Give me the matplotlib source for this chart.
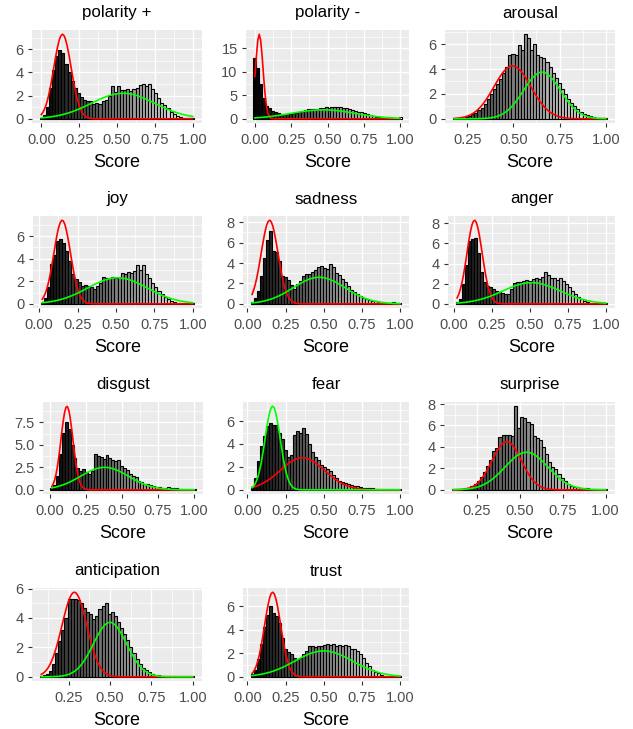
import matplotlib

matplotlib.use("Agg")
import matplotlib.pyplot as plt
import numpy as np
from matplotlib.ticker import AutoMinorLocator, FormatStrFormatter, MultipleLocator

plt.rcParams["font.family"] = ["Liberation Sans", "DejaVu Sans"]

# ---- data (density per bin, 50 bins per panel) ----
names = ["polarity +", "polarity -", "arousal", "joy", "sadness", "anger",
         "disgust", "fear", "surprise", "anticipation", "trust"]

# lowest observed score per panel; bins run from here up to 1.0
x_min = [0.0, 0.0, 0.18, 0.02, 0.03, 0.02, 0.015, 0.03, 0.115, 0.085, 0.03]

polarity_pos = [0.1, 0.3, 1.0, 2.7, 4.2, 5.4, 5.9, 5.7, 4.7, 4.0,
                3.3, 2.7, 2.2, 1.9, 1.6, 1.5, 1.5, 1.3, 1.4, 1.3,
                1.5, 1.6, 2.0, 2.8, 2.3, 2.8, 2.5, 2.5, 2.6, 2.4,
                2.6, 2.7, 2.9, 3.0, 2.8, 3.0, 2.6, 2.2, 1.8, 1.4,
                1.2, 0.9, 0.6, 0.4, 0.2, 0.12, 0.06, 0.04, 0.03, 0.05]
polarity_neg = [12.9, 10.9, 7.5, 4.5, 2.8, 2.2, 1.7, 1.4, 1.2, 1.1,
                1.0, 1.0, 1.1, 1.2, 1.3, 1.5, 1.7, 1.9, 2.0, 2.1,
                2.1, 2.0, 2.3, 2.2, 2.4, 2.3, 2.4, 2.6, 2.5, 2.4,
                2.2, 2.2, 2.0, 1.9, 1.7, 1.5, 1.4, 1.2, 1.0, 0.8,
                0.6, 0.45, 0.35, 0.25, 0.18, 0.12, 0.08, 0.06, 0.05, 0.3]
arousal = [0.05, 0.05, 0.08, 0.1, 0.15, 0.25, 0.35, 0.5, 0.7, 0.9,
           1.2, 1.6, 2.0, 2.4, 2.8, 3.2, 3.7, 4.2, 5.1, 5.2,
           5.1, 5.9, 5.5, 6.8, 6.5, 5.5, 6.0, 5.1, 5.0, 4.9,
           4.6, 4.2, 3.7, 3.3, 2.9, 2.4, 2.0, 1.6, 1.3, 1.0,
           0.75, 0.55, 0.4, 0.3, 0.2, 0.13, 0.09, 0.06, 0.04, 0.05]
joy = [0.1, 0.5, 1.5, 3.5, 4.3, 5.6, 5.7, 5.4, 4.7, 3.8,
       2.6, 2.2, 1.9, 1.6, 1.7, 1.6, 1.5, 1.3, 1.6, 1.8,
       2.4, 2.3, 2.3, 2.4, 2.3, 2.4, 2.7, 2.6, 2.8, 2.7,
       2.9, 3.4, 3.0, 3.4, 2.6, 2.3, 1.8, 1.5, 1.1, 0.9,
       0.6, 0.4, 0.25, 0.15, 0.1, 0.06, 0.04, 0.03, 0.02, 0.05]
sadness = [0.2, 0.6, 1.3, 2.7, 4.5, 6.3, 7.1, 5.2, 5.1, 4.2,
           2.7, 2.6, 2.3, 1.8, 1.5, 1.9, 2.2, 2.7, 2.9, 2.9,
           3.1, 3.3, 3.6, 3.7, 3.5, 3.4, 3.9, 3.6, 3.0, 2.8,
           2.4, 2.1, 1.7, 1.4, 1.2, 1.0, 0.8, 0.6, 0.45, 0.35,
           0.3, 0.25, 0.2, 0.15, 0.12, 0.1, 0.1, 0.15, 0.1, 0.1]
anger = [0.2, 0.5, 2.0, 3.9, 6.2, 6.4, 6.5, 5.0, 3.2, 2.2,
         1.8, 1.7, 1.5, 1.3, 1.2, 1.1, 1.0, 1.0, 1.5, 2.1,
         2.2, 2.2, 2.3, 2.4, 2.3, 2.5, 2.6, 2.5, 2.7, 3.2,
         2.9, 2.6, 2.6, 2.4, 2.6, 2.3, 2.0, 1.7, 1.3, 1.0,
         0.7, 0.45, 0.3, 0.2, 0.12, 0.08, 0.05, 0.04, 0.03, 0.1]
disgust = [0.2, 0.5, 1.5, 4.0, 6.3, 7.5, 6.8, 5.0, 3.5, 2.4,
           2.1, 2.3, 2.0, 1.8, 2.1, 4.0, 3.8, 3.6, 3.4, 3.9,
           3.5, 3.3, 3.2, 3.3, 2.7, 2.4, 2.2, 1.8, 1.5, 1.4,
           1.0, 0.9, 0.7, 0.6, 0.5, 0.4, 0.35, 0.3, 0.2, 0.25,
           0.3, 0.25, 0.2, 0.15, 0.12, 0.1, 0.08, 0.06, 0.05, 0.05]
fear = [0.2, 1.0, 2.5, 3.8, 4.7, 5.6, 5.8, 5.7, 5.7, 5.0,
        4.4, 3.5, 2.9, 3.0, 4.8, 5.1, 5.0, 5.4, 4.9, 4.0,
        3.3, 2.9, 2.6, 2.2, 2.0, 1.8, 1.6, 1.3, 1.0, 0.8,
        0.7, 0.6, 0.5, 0.4, 0.35, 0.3, 0.25, 0.2, 0.18, 0.15,
        0.12, 0.1, 0.08, 0.06, 0.05, 0.04, 0.03, 0.03, 0.03, 0.1]
surprise = [0.05, 0.05, 0.08, 0.1, 0.15, 0.2, 0.35, 0.5, 0.8, 1.2,
            1.7, 2.2, 2.8, 3.6, 3.9, 4.9, 5.1, 5.1, 5.1, 5.0,
            7.8, 5.8, 6.8, 6.7, 6.3, 6.1, 5.0, 4.8, 4.6, 4.0,
            3.3, 2.6, 2.1, 1.9, 1.5, 1.1, 0.8, 0.55, 0.4, 0.3,
            0.22, 0.2, 0.18, 0.15, 0.1, 0.08, 0.06, 0.05, 0.04, 0.05]
anticipation = [0.05, 0.1, 0.2, 0.4, 0.9, 1.6, 2.4, 3.2, 4.0, 5.3,
                5.3, 5.3, 5.2, 5.0, 4.7, 4.4, 4.3, 3.9, 4.1, 4.6,
                4.8, 5.0, 4.3, 4.4, 4.1, 3.7, 3.3, 2.9, 2.5, 2.0,
                1.6, 1.2, 0.9, 0.6, 0.45, 0.3, 0.2, 0.15, 0.1, 0.08,
                0.06, 0.05, 0.04, 0.03, 0.03, 0.02, 0.02, 0.02, 0.02, 0.05]
trust = [0.2, 0.6, 1.5, 2.8, 4.2, 5.3, 6.0, 5.4, 5.2, 4.6,
         3.3, 2.4, 2.1, 1.9, 1.6, 1.5, 1.6, 1.9, 2.2, 2.6,
         2.6, 2.5, 2.6, 2.6, 2.7, 2.8, 2.7, 2.8, 2.6, 2.7,
         2.6, 2.7, 2.6, 2.4, 2.4, 2.2, 1.9, 1.6, 1.2, 0.9,
         0.6, 0.4, 0.3, 0.15, 0.1, 0.06, 0.04, 0.03, 0.03, 0.05]

heights = [polarity_pos, polarity_neg, arousal, joy, sadness, anger,
           disgust, fear, surprise, anticipation, trust]

# two-component gaussian mixture fits: mean, sd, peak density
red_mu = [0.14, 0.03, 0.495, 0.15, 0.145, 0.135, 0.12, 0.36, 0.425, 0.285, 0.165]
red_sd = [0.057, 0.0255, 0.10, 0.054, 0.055, 0.05, 0.041, 0.145, 0.085, 0.075, 0.053]
red_peak = [7.3, 18.0, 4.25, 7.4, 8.2, 8.3, 9.3, 2.8, 4.5, 5.75, 7.2]
green_mu = [0.54, 0.47, 0.655, 0.51, 0.47, 0.51, 0.38, 0.165, 0.54, 0.50, 0.50]
green_sd = [0.21, 0.22, 0.10, 0.195, 0.17, 0.19, 0.165, 0.05, 0.125, 0.10, 0.19]
green_peak = [2.2, 1.9, 3.75, 2.3, 2.6, 2.1, 2.5, 7.3, 3.5, 3.7, 2.2]

y_step = [2, 5, 2, 2, 2, 2, 2.5, 2, 2, 2, 2]

# panel boxes in pixels: left, top, right, bottom
W, H = 633, 729
rows_tb = [(30, 123), (216, 308), (402, 494), (588, 681)]
cols_lr = [[(32, 202), (246, 409), (445, 615)],
           [(33, 202), (243, 409), (448, 615)],
           [(43, 203), (243, 409), (444, 615)],
           [(32, 202), (243, 409)]]


def gauss(x, mu, sd, peak):
    return peak * np.exp(-0.5 * ((x - mu) / sd) ** 2)


fig = plt.figure(figsize=(W / 100, H / 100), dpi=100)
idx = 0
for r, (top, bot) in enumerate(rows_tb):
    for (left, right) in cols_lr[r]:
        ax = fig.add_axes([left / W, 1 - bot / H, (right - left) / W, (bot - top) / H])
        h = np.asarray(heights[idx])
        xm = x_min[idx]
        centers = np.linspace(xm, 1.0, len(h))
        w = centers[1] - centers[0]

        ax.set_facecolor("#EBEBEB")
        ax.bar(centers, h, width=w, color=plt.cm.gray(np.clip(centers, 0, 1)),
               edgecolor="black", linewidth=0.8, zorder=2)
        xs = np.linspace(xm, 1.0, 101)
        ax.plot(xs, gauss(xs, red_mu[idx], red_sd[idx], red_peak[idx]),
                color="#FF0000", lw=1.2, zorder=3)
        ax.plot(xs, gauss(xs, green_mu[idx], green_sd[idx], green_peak[idx]),
                color="#00FF00", lw=1.2, zorder=3)

        lo, hi = xm - w / 2, 1.0 + w / 2
        ax.set_xlim(lo - 0.05 * (hi - lo), hi + 0.05 * (hi - lo))
        ymax = max(h.max(), red_peak[idx], green_peak[idx])
        ax.set_ylim(-0.05 * ymax, 1.05 * ymax)

        ax.xaxis.set_major_locator(MultipleLocator(0.25))
        ax.xaxis.set_minor_locator(AutoMinorLocator(2))
        ax.xaxis.set_major_formatter(FormatStrFormatter("%.2f"))
        ax.yaxis.set_major_locator(MultipleLocator(y_step[idx]))
        ax.yaxis.set_minor_locator(AutoMinorLocator(2))
        if y_step[idx] % 1:
            ax.yaxis.set_major_formatter(FormatStrFormatter("%.1f"))
        else:
            ax.yaxis.set_major_formatter(FormatStrFormatter("%d"))

        ax.grid(True, which="major", color="white", lw=1.0, zorder=0)
        ax.grid(True, which="minor", color="white", lw=0.5, zorder=0)
        ax.set_axisbelow(True)
        for s in ax.spines.values():
            s.set_visible(False)
        ax.tick_params(which="major", length=3, width=0.8, color="#333333",
                       labelcolor="#4D4D4D", labelsize=10.5, pad=3)
        ax.tick_params(axis="x", which="major", pad=4)
        ax.tick_params(which="minor", length=0)

        ax.set_title(names[idx], fontsize=12.2, pad=9)
        ax.set_xlabel("Score", fontsize=13, labelpad=5)
        idx += 1

fig.savefig("out.png", dpi=100)
plt.close(fig)
